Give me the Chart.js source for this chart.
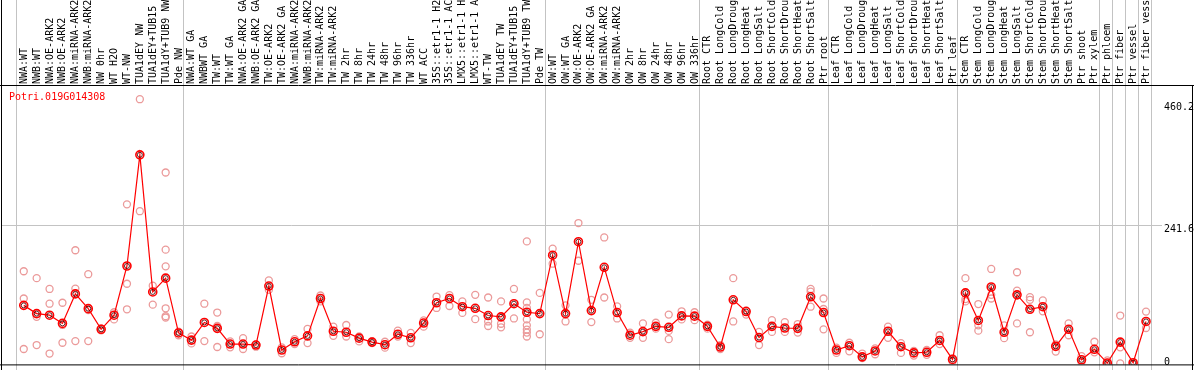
<!DOCTYPE html>
<html>
<head>
<meta charset="utf-8">
<script src="https://cdn.jsdelivr.net/npm/chart.js@4/dist/chart.umd.min.js"></script>
<style>
  html, body { margin: 0; padding: 0; background: #fff; }
  #wrap { width: 1194px; height: 370px; }
</style>
</head>
<body>
<div id="wrap"><canvas id="chart" width="1194" height="370"></canvas></div>
<script>
// gene shown in this panel
const geneName = 'Potri.019G014308';

// sample names, one column each
const samples = [
  'NWA:WT', 'NWB:WT', 'NWA:OE-ARK2', 'NWB:OE-ARK2', 'NWA:miRNA-ARK2', 'NWB:miRNA-ARK2',
  'NW 0hr', 'WT H2O', 'WT-NW', 'TUA1dEY NW', 'TUA1dEY+TUB15 NW', 'TUA1dY+TUB9 NW', 'Pde NW',
  'NWA:WT GA', 'NWBWT GA', 'TW:WT', 'TW:WT GA', 'NWA:OE-ARK2 GA', 'NWB:OE-ARK2 GA',
  'TW:OE-ARK2', 'TW:OE-ARK2 GA', 'NWA:miRNA-ARK2 GA', 'NWB:miRNA-ARK2 GA', 'TW:miRNA-ARK2',
  'TW:miRNA-ARK2 GA', 'TW 2hr', 'TW 8hr', 'TW 24hr', 'TW 48hr', 'TW 96hr', 'TW 336hr',
  'WT ACC', '35S::etr1-1 H2O', '35S::etr1-1 ACC', 'LMX5::etr1-1 H2O', 'LMX5::etr1-1 ACC',
  'WT-TW', 'TUA1dEY TW', 'TUA1dEY+TUB15 TW', 'TUA1dY+TUB9 TW', 'Pde TW',
  'OW:WT', 'OW:WT GA', 'OW:OE-ARK2', 'OW:OE-ARK2 GA', 'OW:miRNA-ARK2', 'OW:miRNA-ARK2 GA',
  'OW 2hr', 'OW 8hr', 'OW 24hr', 'OW 48hr', 'OW 96hr', 'OW 336hr',
  'Root CTR', 'Root LongCold', 'Root LongDrought', 'Root LongHeat', 'Root LongSalt',
  'Root ShortCold', 'Root ShortDrought', 'Root ShortHeat', 'Root ShortSalt', 'Ptr root',
  'Leaf CTR', 'Leaf LongCold', 'Leaf LongDrought', 'Leaf LongHeat', 'Leaf LongSalt',
  'Leaf ShortCold', 'Leaf ShortDrought', 'Leaf ShortHeat', 'Leaf ShortSalt', 'Ptr leaf',
  'Stem CTR', 'Stem LongCold', 'Stem LongDrought', 'Stem LongHeat', 'Stem LongSalt',
  'Stem ShortCold', 'Stem ShortDrought', 'Stem ShortHeat', 'Stem ShortSalt',
  'Ptr shoot', 'Ptr xylem', 'Ptr phloem', 'Ptr fiber', 'Ptr vessel', 'Ptr fiber vessel'
];

// mean expression per sample
const meanValues = [
  101.1, 86.8, 84.0, 69.7, 121.1, 95.4, 59.4, 84.0, 169.7, 363.3, 124.5, 148.5, 53.1,
  40.6, 71.4, 61.1, 33.7, 33.7, 32.0, 134.8, 23.4, 37.7, 48.0, 113.1, 56.0, 54.3, 44.0,
  37.1, 32.6, 50.8, 44.6, 70.3, 105.7, 113.1, 98.8, 96.0, 83.4, 81.1, 104.0, 89.1, 86.8,
  188.5, 86.8, 212.0, 92.0, 167.4, 88.6, 49.1, 55.4, 64.6, 62.9, 82.8, 82.3,
  64.6, 28.6, 110.8, 90.3, 45.1, 64.6, 61.7, 61.1, 116.0, 88.6,
  23.4, 30.9, 11.4, 21.7, 56.0, 29.1, 18.3, 19.4, 40.0, 6.9,
  122.8, 74.8, 133.1, 54.3, 119.4, 94.3, 98.8, 29.7, 59.4, 6.3, 24.6, 0.6, 37.1, 1.2, 73.1
];

// single replicates per sample
const replicates = [
  [160.5, 113.1, 25.1], [148.5, 81.1, 32.0], [129.7, 104.0, 17.2], [105.7, 67.0, 36.0],
  [197.1, 130.3, 38.9], [155.4, 93.0, 38.9], [61.1, 57.7], [89.1, 76.6],
  [277.1, 138.8, 94.3], [460.2, 265.1], [135.4, 102.3],
  [332.5, 198.2, 169.1, 96.0, 82.3, 80.0], [55.4, 49.1],
  [46.9, 34.8], [104.0, 38.9], [88.6, 65.2, 28.6], [38.3, 28.0], [44.0, 25.1], [33.1, 29.1],
  [144.5, 128.0], [28.0, 17.7], [42.3, 33.7], [60.0, 35.4], [118.3, 108.0], [64.0, 48.0],
  [66.9, 46.9], [46.9, 38.3], [38.9, 35.4], [37.7, 27.4], [57.1, 46.9], [53.1, 35.4],
  [74.8, 64.0], [116.5, 96.6], [118.8, 100.0], [108.0, 88.0], [119.4, 77.1],
  [114.8, 73.1, 65.2], [108.0, 69.1, 62.9], [129.7, 78.3],
  [212.5, 106.3, 96.6, 76.6, 66.3, 58.9, 53.7, 46.9], [122.8, 50.8],
  [199.9, 173.7], [101.1, 73.1], [244.5, 178.8], [110.8, 72.0], [219.4, 114.8], [99.4, 78.3],
  [53.7, 44.6], [69.7, 44.6], [70.8, 60.6], [85.1, 56.6, 42.3], [90.8, 76.6], [89.1, 75.4],
  [67.4, 60.6], [32.0, 25.1], [148.5, 73.1], [92.5, 85.1], [54.9, 32.0], [75.4, 54.9],
  [72.0, 54.9], [68.6, 53.7], [129.7, 125.1, 98.8], [113.1, 94.8, 59.4],
  [27.4, 18.3], [36.0, 21.1], [17.2, 9.2], [26.3, 16.0], [64.0, 44.6], [35.4, 18.3],
  [21.7, 13.7], [23.4, 14.9], [49.1, 33.7], [9.2, 3.4],
  [148.5, 112.0, 108.0], [103.4, 66.3, 57.1], [164.5, 119.4, 113.1], [66.3, 44.0],
  [158.8, 126.8, 69.7], [115.4, 110.8, 54.3], [109.7, 90.8], [33.1, 20.6], [69.7, 49.1],
  [12.6, 2.3], [37.7, 19.4], [5.2, 0], [83.4, 28.0, 0], [0], [90.3, 61.7]
];

// last sample of each block (grey separators), 0 = left edge
const groupEnds = [0, 13, 41, 53, 63, 73, 84, 85, 86, 87, 88];

// y axis labels on the right
const yTicks = [0, 241.6, 460.2];

const FONT = '10px "DejaVu Sans Mono", "Liberation Mono", monospace';

const meanPoints = meanValues.map((v, i) => ({ x: i + 1, y: v }));
const repPoints = [];
replicates.forEach((reps, i) => {
  reps.forEach(v => repPoints.push({ x: i + 1, y: v }));
});

// gitter, beschriftung und rahmen
const decorPlugin = {
  id: 'decor',
  beforeDraw(chart) {
    const ctx = chart.ctx;
    ctx.save();
    ctx.fillStyle = '#fff';
    ctx.fillRect(0, 0, chart.width, chart.height);
    ctx.restore();
  },
  beforeDatasetsDraw(chart) {
    const ctx = chart.ctx;
    const xs = chart.scales.x, ys = chart.scales.y;
    ctx.save();
    ctx.strokeStyle = '#c3c3c3';
    ctx.lineWidth = 1;
    ctx.beginPath();
    groupEnds.forEach(n => {
      const px = Math.round(xs.getPixelForValue(n + 0.38)) + 0.5;
      ctx.moveTo(px, 0);
      ctx.lineTo(px, chart.height);
    });
    const gy = Math.round(ys.getPixelForValue(yTicks[1])) + 0.5;
    ctx.moveTo(1, gy);
    ctx.lineTo(1162, gy);
    ctx.stroke();
    ctx.restore();
  },
  afterDraw(chart) {
    const ctx = chart.ctx;
    const xs = chart.scales.x, ys = chart.scales.y;
    const area = chart.chartArea;
    ctx.save();
    ctx.font = FONT;
    ctx.fillStyle = '#000';

    // rotated sample names
    samples.forEach((name, i) => {
      const px = Math.round(xs.getPixelForValue(i + 1));
      ctx.save();
      ctx.translate(px + 0.5, area.top - 2);
      ctx.rotate(-Math.PI / 2);
      ctx.textAlign = 'left';
      ctx.textBaseline = 'middle';
      ctx.fillText(name, 0, 0);
      ctx.restore();
    });

    // y tick labels
    ctx.textAlign = 'left';
    ctx.textBaseline = 'middle';
    yTicks.forEach(v => {
      let y = ys.getPixelForValue(v) + 5;
      y = Math.min(Math.max(y, 107), 362);
      ctx.fillText(String(v), 1164, y);
    });

    // gene name
    ctx.fillStyle = '#ff0000';
    ctx.fillText(geneName, 9, 97);

    // black frame
    ctx.strokeStyle = '#000';
    ctx.lineWidth = 1;
    ctx.beginPath();
    ctx.moveTo(0, area.top - 0.5);
    ctx.lineTo(chart.width, area.top - 0.5);
    ctx.moveTo(0, area.bottom + 0.5);
    ctx.lineTo(chart.width, area.bottom + 0.5);
    ctx.moveTo(1.5, 0);
    ctx.lineTo(1.5, chart.height);
    ctx.moveTo(chart.width - 1.5, area.top);
    ctx.lineTo(chart.width - 1.5, chart.height);
    ctx.stroke();
    ctx.restore();
  }
};

const chart = new Chart(document.getElementById('chart'), {
  type: 'scatter',
  data: {
    datasets: [
      {
        label: 'mean inner',
        type: 'line',
        data: meanPoints,
        showLine: false,
        pointRadius: 2.5,
        pointBorderWidth: 1,
        pointBorderColor: 'rgba(70,0,0,0.85)',
        pointBackgroundColor: 'rgba(0,0,0,0)',
        order: 0
      },
      {
        label: 'mean',
        type: 'line',
        data: meanPoints,
        borderColor: '#ff0000',
        borderWidth: 1.2,
        tension: 0,
        pointRadius: 4,
        pointBorderWidth: 1.6,
        pointBorderColor: '#ff0000',
        pointBackgroundColor: 'rgba(0,0,0,0)',
        order: 1
      },
      {
        label: 'replicates',
        data: repPoints,
        pointRadius: 3.5,
        pointBorderWidth: 1.3,
        pointBorderColor: '#eb9a9a',
        pointBackgroundColor: 'rgba(0,0,0,0)',
        order: 2
      }
    ]
  },
  options: {
    responsive: false,
    animation: false,
    devicePixelRatio: 1,
    layout: { padding: { top: 86, bottom: 1, left: 1, right: 1 } },
    plugins: { legend: { display: false }, tooltip: { enabled: false } },
    scales: {
      x: { type: 'linear', min: -0.4077, max: 91.285, display: false },
      y: { type: 'linear', min: -1.71, max: 483.2, display: false }
    }
  },
  plugins: [decorPlugin]
});
</script>
</body>
</html>
